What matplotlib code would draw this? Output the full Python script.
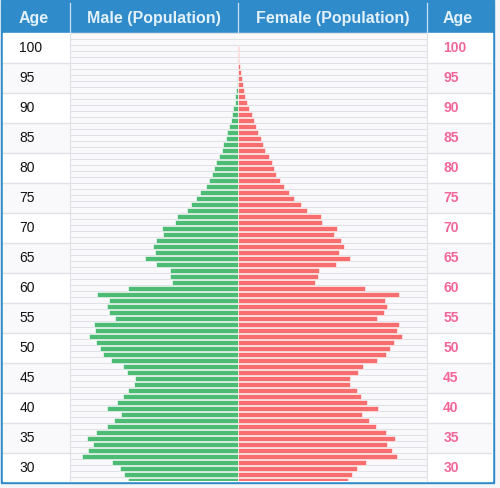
import matplotlib.pyplot as plt
from matplotlib.patches import Rectangle

# one row per single year of age, top of the table down to the cut-off
ages = list(range(100, 25, -1))
male = [0, 0, 0, 0.2, 0.3, 0.4, 0.6, 1.0, 1.6, 2.3,
        3.0, 3.6, 5.0, 6.6, 7.8, 9.2, 11.0, 12.6, 15.0, 16.3,
        19.6, 22.3, 24.0, 26.3, 29.6, 32.6, 38.0, 42.6, 47.3, 51.6,
        61.6, 63.6, 76.3, 75.3, 82.0, 85.3, 83.3, 93.0, 82.6, 68.6,
        68.3, 66.0, 110.6, 141.0, 129.0, 131.6, 129.6, 123.6, 144.3, 143.3,
        149.0, 142.3, 138.6, 135.6, 127.6, 115.3, 111.3, 103.6, 104.6, 110.6,
        115.3, 121.0, 131.6, 117.3, 124.3, 131.3, 142.3, 151.3, 145.3, 150.3,
        156.6, 126.6, 118.3, 114.0, 110.6]
female = [0, 0, 0.7, 1.0, 1.0, 1.8, 2.6, 3.3, 4.6, 5.6,
          7.0, 8.6, 10.6, 13.3, 15.4, 17.8, 20.0, 22.4, 24.7, 26.4,
          30.4, 33.4, 35.4, 37.4, 41.4, 45.4, 51.0, 55.4, 63.0, 69.0,
          82.4, 84.0, 99.0, 96.0, 102.7, 105.4, 101.0, 111.4, 97.7, 80.4,
          79.7, 76.7, 127.0, 160.8, 146.7, 148.4, 145.7, 138.4, 161.0, 158.7,
          164.0, 156.0, 151.4, 147.7, 138.4, 124.7, 120.0, 111.4, 111.7, 118.7,
          123.0, 128.7, 139.4, 123.7, 130.4, 137.4, 148.0, 156.4, 149.0, 153.4,
          159.0, 127.7, 118.4, 113.4, 109.4]
age_labels = list(range(100, 29, -5))
headers = ["Age", "Male (Population)", "Female (Population)", "Age"]

BLUE = "#2f8bc9"
GREEN = "#4cbb74"
RED = "#f86e6e"
PINK = "#f2669a"
TRACK = "#f9f9fb"
SEP = "#e0e1e6"
FONT = ["Liberation Sans", "DejaVu Sans"]

W, H = 500, 488
TOP, BOT = 33.3, 481
x_l, x_c, x_r = 69.7, 238.3, 427.3
ylim = (100.5 - (BOT - TOP) / 6, 100.5)


def box(x0, y0, x1, y1):
    return [x0 / W, 1 - y1 / H, (x1 - x0) / W, (y1 - y0) / H]


fig = plt.figure(figsize=(5, 4.88), dpi=100, facecolor="#f6f6f8")

bg = fig.add_axes([0, 0, 1, 1])
bg.set_xlim(0, W)
bg.set_ylim(H, 0)
bg.axis("off")
bg.add_patch(Rectangle((1, 0), 493.3, 483.3, color=BLUE))
bg.add_patch(Rectangle((3, TOP), 489, BOT - TOP, color="white"))
for xs in (x_l, x_c, x_r):
    bg.plot([xs, xs], [3.3, TOP], color="#c9e0f1", lw=0.9)
for name, xc in zip(headers, [34, (x_l + x_c) / 2, (x_c + x_r) / 2, 457.7]):
    bg.text(xc, 18.5, name, ha="center", va="center", fontsize=11.5,
            fontweight="bold", color="#e3f1fb", family=FONT)

# bar columns
lim_m = x_c - x_l
lim_f = x_r - x_c
ax_m = fig.add_axes(box(x_l, TOP, x_c, BOT))
ax_f = fig.add_axes(box(x_c, TOP, x_r, BOT))
for ax, vals, lim, col in ((ax_m, male, lim_m, GREEN), (ax_f, female, lim_f, RED)):
    ax.set_facecolor(SEP)
    ax.barh(ages, [lim] * len(ages), height=0.86, color=TRACK)
    ax.barh(ages, vals, height=0.86, color=col, edgecolor="white", linewidth=0.4)
    ax.set_ylim(*ylim)
    ax.set_xticks([])
    ax.set_yticks([])
    for s in ax.spines.values():
        s.set_visible(False)
ax_m.set_xlim(lim_m, 0)
ax_f.set_xlim(0, lim_f)

# age columns
ax_al = fig.add_axes(box(3, TOP, x_l, BOT))
ax_ar = fig.add_axes(box(x_r, TOP, 492, BOT))
for ax, side in ((ax_al, "right"), (ax_ar, "left")):
    ax.set_xlim(0, 1)
    ax.set_ylim(*ylim)
    ax.set_xticks([])
    ax.set_yticks([])
    for i, a in enumerate(age_labels):
        ax.axhspan(a - 4.5, a + 0.5, color="white" if i % 2 == 0 else "#f9f9fb", lw=0)
        ax.axhline(a - 4.5, color=SEP, lw=1)
    for k, s in ax.spines.items():
        s.set_visible(k == side)
        s.set_color(SEP)
for a in age_labels:
    ax_al.text(0.247, a - 2, str(a), ha="left", va="center", fontsize=10,
               color="#111111", family=FONT)
    ax_ar.text(0.246, a - 2, str(a), ha="left", va="center", fontsize=10,
               fontweight="bold", color=PINK, family=FONT)

fig.savefig("out.png", dpi=100, facecolor=fig.get_facecolor())
